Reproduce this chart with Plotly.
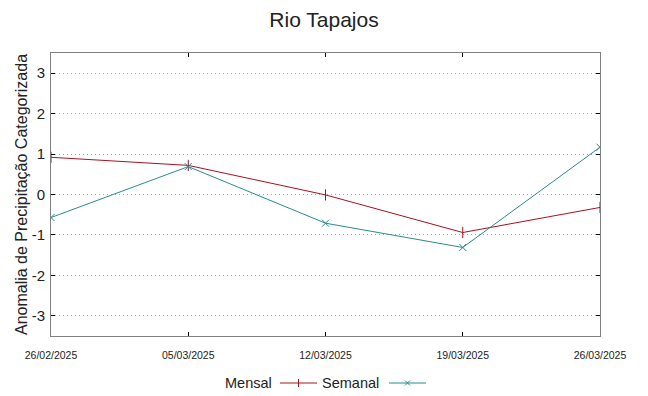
import plotly.graph_objects as go

title = "Rio Tapajos"
dates = ["26/02/2025", "05/03/2025", "12/03/2025", "19/03/2025", "26/03/2025"]
mensal = [0.92, 0.72, -0.01, -0.94, -0.32]
semanal = [-0.57, 0.69, -0.71, -1.31, 1.17]
y_ticks = [-3, -2, -1, 0, 1, 2, 3]
y_tick_labels = ["-3", "-2", "-1", "0", "1", "2", "3"]

RED = "#a8101f"
TEAL = "#2a8c8c"
FONT = "Liberation Sans, Arial"

fig = go.Figure()
fig.add_trace(go.Scatter(x=list(range(len(dates))), y=mensal, mode="lines+markers", name="Mensal",
                         line=dict(color=RED, width=1),
                         marker=dict(symbol="line-ns", size=8, line=dict(color=RED, width=1), color=RED)))
fig.add_trace(go.Scatter(x=list(range(len(dates))), y=semanal, mode="lines+markers", name="Semanal",
                         line=dict(color=TEAL, width=1),
                         marker=dict(symbol="x-thin", size=7, line=dict(color=TEAL, width=1), color=TEAL)))

axis_common = dict(showline=True, linecolor="#808080", linewidth=1, mirror="ticks",
                   ticks="inside", ticklen=4, tickcolor="black", tickwidth=1, zeroline=False,
                   automargin=False)

fig.update_xaxes(range=[0, len(dates) - 1], tickvals=list(range(len(dates))), ticktext=dates,
                 showgrid=False, ticklabelstandoff=9,
                 tickfont=dict(family=FONT, size=10.5, color="#222"),
                 **axis_common)
fig.update_yaxes(range=[-3.5, 3.5], tickvals=y_ticks, ticktext=y_tick_labels,
                 showgrid=True, gridcolor="#aaaaaa", griddash="1px,3px",
                 gridwidth=1, ticklabelstandoff=2, tickfont=dict(family=FONT, size=15, color="#222"),
                 title=dict(text="Anomalia de Precipitação Categorizada", standoff=0,
                            font=dict(family=FONT, size=16, color="#222")),
                 **axis_common)

# Gnuplot-style legend (text then sample) drawn in paper coordinates
leg_y = -0.167
ann_font = dict(family=FONT, size=14.5, color="#222")
pw = 549.0
ph = 283.0
def px(x):
    return (x - 51) / pw
def py(y):
    return (336 - y) / ph
annotations = [
    dict(text="Mensal", x=px(274), y=leg_y, xref="paper", yref="paper", xanchor="right", yanchor="middle",
         showarrow=False, font=ann_font),
    dict(text="Semanal", x=px(381), y=leg_y, xref="paper", yref="paper", xanchor="right", yanchor="middle",
         showarrow=False, font=ann_font),
]
shapes = [
    dict(type="line", xref="paper", yref="paper", x0=px(280), x1=px(317), y0=py(383), y1=py(383), line=dict(color=RED, width=1)),
    dict(type="line", xref="paper", yref="paper", x0=px(298.5), x1=px(298.5), y0=py(379), y1=py(387), line=dict(color=RED, width=1)),
    dict(type="line", xref="paper", yref="paper", x0=px(389), x1=px(426), y0=py(383), y1=py(383), line=dict(color=TEAL, width=1)),
    dict(type="line", xref="paper", yref="paper", x0=px(405), x1=px(410), y0=py(380.5), y1=py(385.5), line=dict(color=TEAL, width=1)),
    dict(type="line", xref="paper", yref="paper", x0=px(405), x1=px(410), y0=py(385.5), y1=py(380.5), line=dict(color=TEAL, width=1)),
]

fig.update_layout(
    width=648, height=396,
    margin=dict(l=51, r=48, t=53, b=60),
    paper_bgcolor="white", plot_bgcolor="white",
    title=dict(text=title, x=0.5, xanchor="center", y=0.95, yanchor="middle",
               font=dict(family=FONT, size=21, color="#222")),
    showlegend=False,
    annotations=annotations,
    shapes=shapes,
)

fig.write_html("out.html", config={"displayModeBar": False},
               post_script="document.body.style.margin='0';")
